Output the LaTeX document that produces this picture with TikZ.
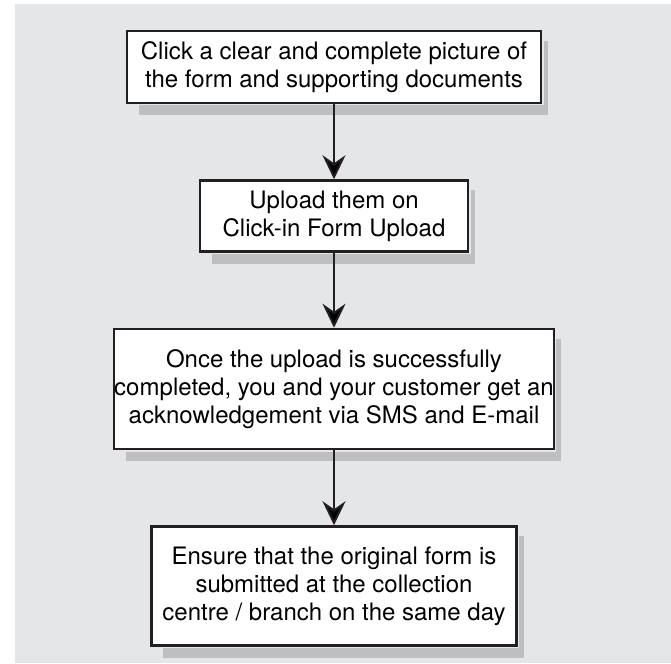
\documentclass[tikz,border=0pt]{standalone}
\usepackage{fontspec}
\setmainfont{TeX Gyre Heros}
\usetikzlibrary{arrows.meta,positioning}
\definecolor{panelgray}{RGB}{229,230,232}
\definecolor{shadegray}{RGB}{190,191,193}
\definecolor{inkblack}{RGB}{35,31,32}
\tikzset{
  stepbox/.style={rectangle,draw=inkblack,line width=2.5pt,fill=white,inner sep=0pt,align=center,
    font=\fontsize{24}{28}\selectfont},
  flow/.style={-{Stealth[length=24pt,width=23pt,inset=8pt]},draw=inkblack,line width=2pt}
}

\begin{document}
\begin{tikzpicture}[x=1pt,y=-1pt,node distance=75pt]
  \useasboundingbox (0,0) rectangle (671,663);
  \fill[panelgray] (15,4) rectangle (671,663);
  \node[stepbox,minimum width=414pt,minimum height=72pt] (snap) at (334,67) {Click a clear and complete picture of\\the form and supporting documents};
  \node[stepbox,minimum width=268pt,minimum height=71pt,below=of snap] (upload) {Upload them on\\Click-in Form Upload};
  \node[stepbox,minimum width=413pt,minimum height=120pt,below=of upload] (ack) {Once the upload is successfully\\completed, you and your customer get an\\acknowledgement via SMS and E-mail};
  \node[stepbox,minimum width=365pt,minimum height=119pt,below=of ack] (submit) {Ensure that the original form is\\submitted at the collection\\centre / branch on the same day};
  % drop shadows under the boxes
  \foreach \boxname in {snap,upload,ack,submit}{
    \fill[shadegray] ([xshift=13pt,yshift=-1.25pt]\boxname.south west) rectangle ([xshift=6pt,yshift=-11pt]\boxname.south east);
    \fill[shadegray] ([xshift=1.25pt,yshift=-11pt]\boxname.north east) rectangle ([xshift=6pt,yshift=-1.25pt]\boxname.south east);
  }
  \path[flow]
    (snap) edge (upload)
    (upload) edge (ack)
    (ack) edge (submit);
\end{tikzpicture}
\end{document}
